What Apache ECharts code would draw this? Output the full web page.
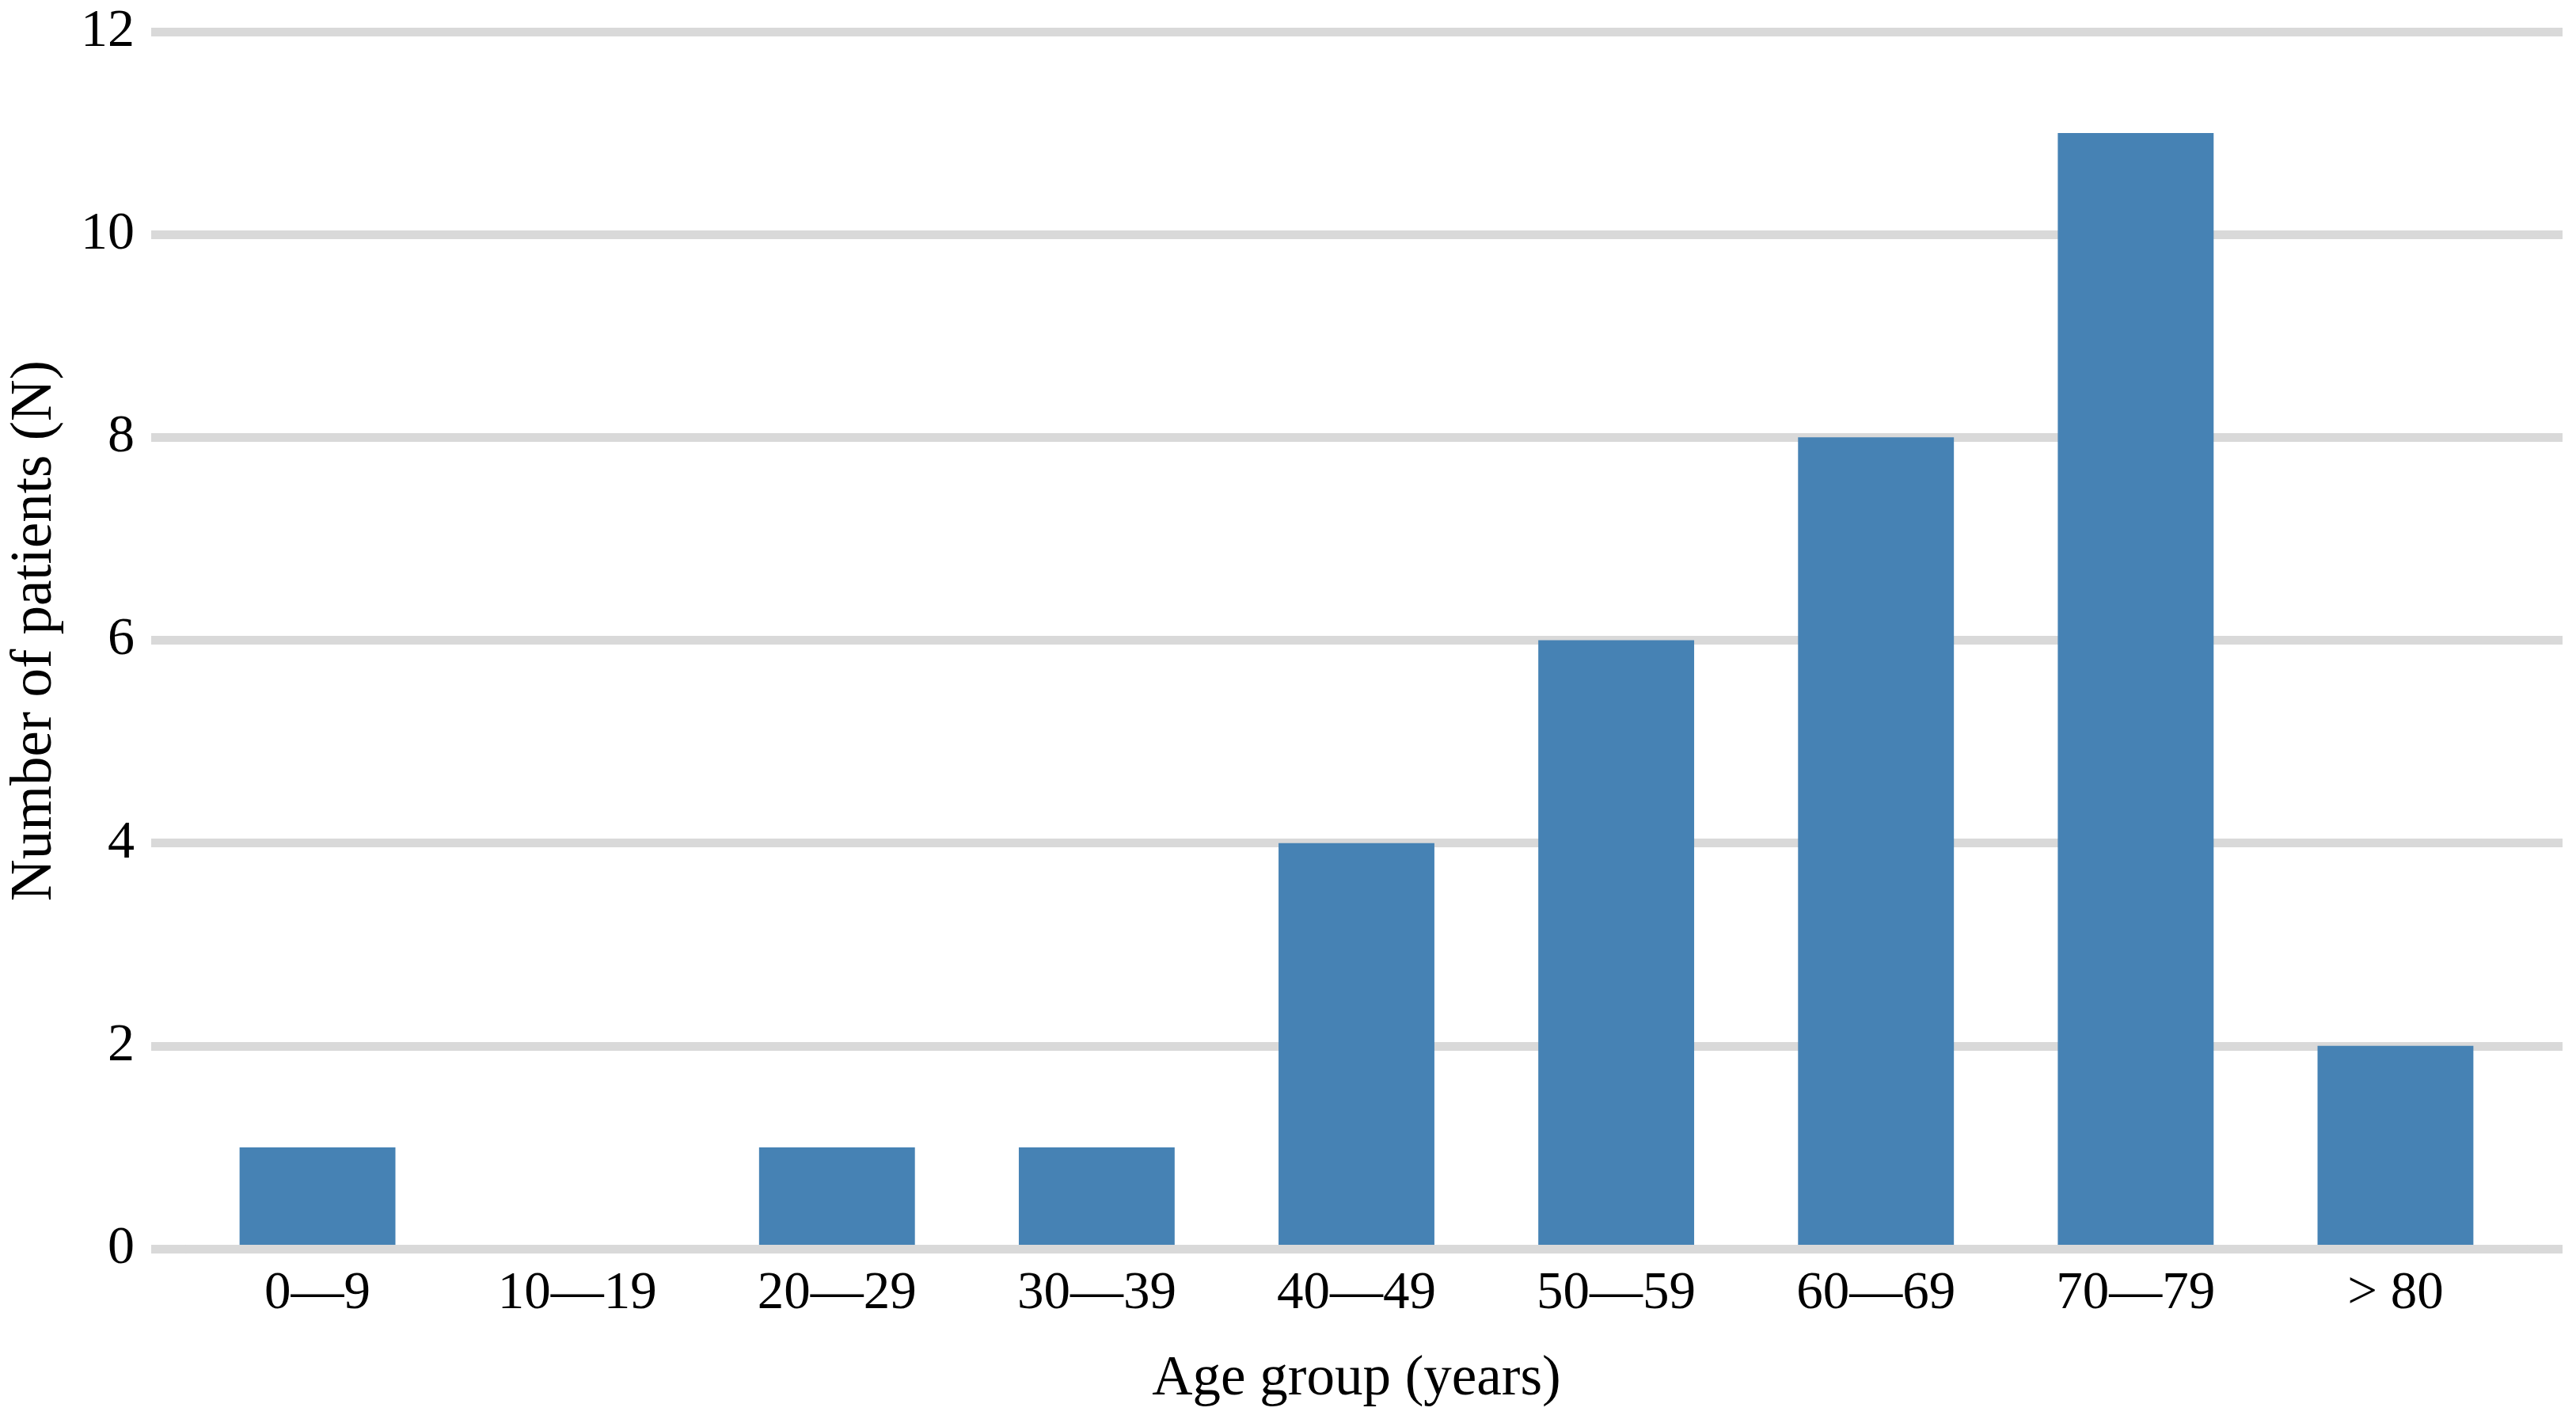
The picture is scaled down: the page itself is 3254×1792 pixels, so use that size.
<!DOCTYPE html>
<html>
<head>
<meta charset="utf-8">
<script src="https://cdn.jsdelivr.net/npm/echarts@6/dist/echarts.min.js"></script>
<style>
html,body{margin:0;padding:0;background:#fff;}
#chart{width:3254px;height:1792px;}
</style>
</head>
<body>
<div id="chart"></div>
<script>
const categories = ["0—9", "10—19", "20—29", "30—39", "40—49", "50—59", "60—69", "70—79", "> 80"];
const patients = [1, 0, 1, 1, 4, 6, 8, 11, 2];
const yMin = 0, yMax = 12, yStep = 2;
const xTitle = "Age group (years)";
const yTitle = "Number of patients (N)";

const FONT = "Liberation Serif";
const GRID_COLOR = "#d9d9d9";
const chart = echarts.init(document.getElementById('chart'), null, {renderer: 'canvas'});
chart.setOption({
  backgroundColor: '#ffffff',
  animation: false,
  grid: [
    {left: 191, right: 17, top: 40, bottom: 215},
    {left: 237, right: 64, top: 40, bottom: 215}
  ],
  xAxis: [
    {gridIndex: 0, type: 'category', data: categories, show: false},
    {gridIndex: 1, type: 'category', data: categories, z: 5,
     axisLine: {show: true, lineStyle: {color: GRID_COLOR, width: 11}},
     axisTick: {show: false},
     axisLabel: {margin: 24, fontFamily: FONT, fontSize: 67, color: '#000'},
     name: xTitle, nameLocation: 'middle', nameGap: 130,
     nameTextStyle: {fontFamily: FONT, fontSize: 71, color: '#000'}}
  ],
  yAxis: [
    {gridIndex: 0, type: 'value', min: yMin, max: yMax, interval: yStep,
     axisLine: {show: false}, axisTick: {show: false},
     splitLine: {show: true, lineStyle: {color: GRID_COLOR, width: 11}},
     axisLabel: {margin: 21, fontFamily: FONT, fontSize: 68, color: '#000'},
     name: yTitle, nameLocation: 'middle', nameRotate: 90, nameGap: 110,
     nameTextStyle: {fontFamily: FONT, fontSize: 73, color: '#000', padding: [0, 0, 0, 24]}},
    {gridIndex: 1, type: 'value', min: yMin, max: yMax, interval: yStep, show: false,
     splitLine: {show: false}}
  ],
  series: [{
    type: 'bar', xAxisIndex: 1, yAxisIndex: 1,
    data: patients, barWidth: '60%',
    itemStyle: {color: '#4682b4'}
  }]
});
</script>
</body>
</html>
